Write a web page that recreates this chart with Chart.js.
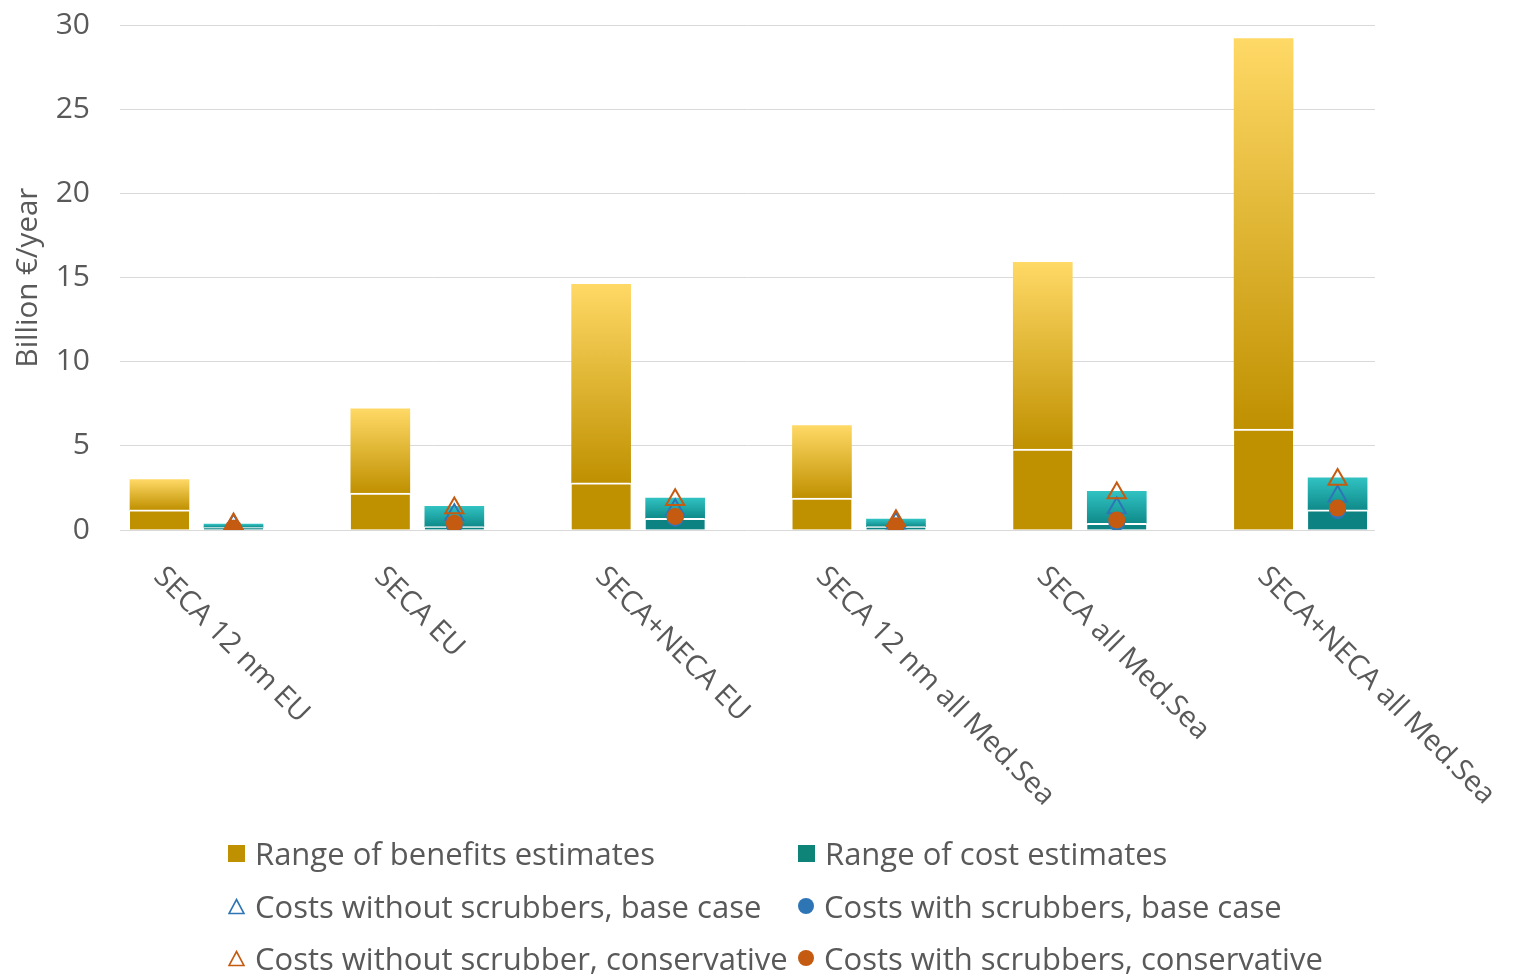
<!DOCTYPE html>
<html>
<head>
<meta charset="utf-8">
<title>Benefits and costs of emission control areas</title>
<script src="https://cdn.jsdelivr.net/npm/chart.js@4.4.1/dist/chart.umd.min.js"></script>
<style>
  html, body { margin: 0; padding: 0; background: #ffffff; }
  #wrap { position: relative; width: 1514px; height: 974px; overflow: hidden; }
  #chart { position: absolute; left: 0; top: 0; }
  .item {
    position: absolute; height: 40px; display: flex; align-items: center;
    font-family: 'Open Sans', sans-serif; font-size: 31px; color: #595959; white-space: nowrap;
  }
  .icon { width: 17px; height: 17px; margin-right: 10px; flex: none; display: block; }
  .dot { border-radius: 50%; width: 16px; height: 16px; }
</style>
</head>
<body>
<div id="wrap">
  <canvas id="chart" width="1514" height="974"></canvas>
  <div id="legend"></div>
</div>
<script>
// Scenarios along the horizontal axis
const categories = [
  'SECA 12 nm EU', 'SECA EU', 'SECA+NECA EU',
  'SECA 12 nm all Med.Sea', 'SECA all Med.Sea', 'SECA+NECA all Med.Sea'
];

// Benefit estimates, billion EUR per year (low and high end of the range)
const benefitsLow  = [1.2, 2.2, 2.8, 1.9, 4.8, 6.0];
const benefitsHigh = [3.0, 7.2, 14.6, 6.2, 15.9, 29.2];

// Cost estimates, billion EUR per year (low and high end of the range)
const costsLow  = [0.15, 0.2, 0.7, 0.2, 0.4, 1.2];
const costsHigh = [0.35, 1.4, 1.9, 0.65, 2.3, 3.1];

// Individual cost cases
const costsNoScrubberBase = [0.3, 0.9, 1.2, 0.4, 1.3, 2.0];
const costsScrubberBase   = [0.1, 0.3, 0.7, 0.2, 0.45, 1.15];
const costsNoScrubberCons = [0.35, 1.3, 1.8, 0.55, 2.2, 3.0];
const costsScrubberCons   = [0.1, 0.4, 0.8, 0.25, 0.6, 1.3];

// Value axis
const yTicks = [0, 5, 10, 15, 20, 25, 30];
const yTitle = 'Billion €/year';

// Legend entries
const seriesNames = [
  'Range of benefits estimates', 'Range of cost estimates',
  'Costs without scrubbers, base case', 'Costs with scrubbers, base case',
  'Costs without scrubber, conservative', 'Costs with scrubbers, conservative'
];

// ---- styling ----
const FONT = "'Open Sans', sans-serif";
const TEXT = '#595959';
const GOLD_DARK = '#BF9000', GOLD_LIGHT = '#FFD966';
const TEAL_SOLID = '#0C8282', TEAL_DARK = '#0F8A8A', TEAL_LIGHT = '#31C2C2';
const BLUE = '#2E75B6', ORANGE = '#C55A11';
const PAIR_OFFSET = 0.1676;   // half distance between the two columns of a scenario
const BAR_WIDTH = 59;

Chart.defaults.font.family = FONT;
Chart.defaults.color = TEXT;

const idx = categories.map((_, i) => i);

function rangeGradient(ctx, low, high, bottomColor, topColor) {
  const chart = ctx.chart;
  if (ctx.type !== 'data' || !chart.chartArea) return topColor;
  const y = chart.scales.y;
  const i = ctx.dataIndex;
  const g = chart.ctx.createLinearGradient(0, y.getPixelForValue(low[i]), 0, y.getPixelForValue(high[i]));
  g.addColorStop(0, bottomColor);
  g.addColorStop(1, topColor);
  return g;
}

function baseBar(values, xShift, color, order) {
  return {
    type: 'bar', order,
    data: idx.map(i => ({ x: i + xShift, y: [0, values[i]] })),
    backgroundColor: color,
    borderColor: '#ffffff',
    borderWidth: { top: 2, right: 0, bottom: 0, left: 0 },
    borderSkipped: false,
    grouped: false,
    barThickness: BAR_WIDTH
  };
}

function rangeBar(low, high, xShift, bottomColor, topColor, order) {
  return {
    type: 'bar', order,
    data: idx.map(i => ({ x: i + xShift, y: [low[i], high[i]] })),
    backgroundColor: ctx => rangeGradient(ctx, low, high, bottomColor, topColor),
    borderWidth: 0,
    grouped: false,
    barThickness: BAR_WIDTH
  };
}

function markers(values, style, color, order) {
  const hollow = style === 'triangle';
  return {
    type: 'scatter', order,
    data: idx.map(i => ({ x: i + PAIR_OFFSET, y: values[i] })),
    pointStyle: style,
    pointRadius: hollow ? 10.5 : 8.5,
    pointBorderWidth: hollow ? 2 : 0,
    pointBorderColor: color,
    pointBackgroundColor: hollow ? 'rgba(0,0,0,0)' : color,
    showLine: false
  };
}

// Rotated scenario names under the plot
const categoryLabels = {
  id: 'categoryLabels',
  afterDraw(chart) {
    const ctx = chart.ctx;
    const xs = chart.scales.x;
    ctx.save();
    ctx.fillStyle = TEXT;
    ctx.font = '29px ' + FONT;
    ctx.textAlign = 'left';
    ctx.textBaseline = 'alphabetic';
    categories.forEach((label, i) => {
      ctx.save();
      ctx.translate(xs.getPixelForValue(i) - 44, chart.chartArea.bottom + 48);
      ctx.rotate(Math.PI / 4);
      ctx.fillText(label, 0, 0);
      ctx.restore();
    });
    ctx.restore();
  }
};

new Chart(document.getElementById('chart'), {
  type: 'bar',
  data: {
    datasets: [
      markers(costsScrubberCons, 'circle', ORANGE, 1),
      markers(costsNoScrubberCons, 'triangle', ORANGE, 2),
      markers(costsScrubberBase, 'circle', BLUE, 3),
      markers(costsNoScrubberBase, 'triangle', BLUE, 4),
      baseBar(costsLow, PAIR_OFFSET, TEAL_SOLID, 5),
      rangeBar(costsLow, costsHigh, PAIR_OFFSET, TEAL_DARK, TEAL_LIGHT, 6),
      baseBar(benefitsLow, -PAIR_OFFSET, GOLD_DARK, 7),
      rangeBar(benefitsLow, benefitsHigh, -PAIR_OFFSET, GOLD_DARK, GOLD_LIGHT, 8)
    ]
  },
  options: {
    responsive: false,
    animation: false,
    events: [],
    layout: { padding: { left: 0, right: 139, top: 25, bottom: 444 } },
    plugins: { legend: { display: false }, tooltip: { enabled: false } },
    scales: {
      x: {
        type: 'linear',
        display: false,
        offset: false,
        min: -0.3465,
        max: 5.337
      },
      y: {
        min: 0,
        max: 30,
        afterBuildTicks: s => { s.ticks = yTicks.map(v => ({ value: v })); },
        afterFit: s => { s.width = 120; s.paddingTop = 0; s.paddingBottom = 0; },
        ticks: { font: { size: 30 }, color: TEXT, padding: 30 },
        grid: { color: '#D9D9D9', lineWidth: 1, drawTicks: false },
        border: { display: false },
        title: {
          display: true, text: yTitle, color: TEXT,
          font: { size: 29.5 }, padding: { top: 11, bottom: 0 }
        }
      }
    }
  },
  plugins: [categoryLabels]
});

// Legend laid out in two columns below the chart
const legendIcons = [
  `<span class="icon" style="background:${GOLD_DARK}"></span>`,
  `<span class="icon" style="background:#0E8478"></span>`,
  `<svg class="icon" viewBox="0 0 17 17"><polygon points="8.5,1.5 16,15.5 1,15.5" fill="none" stroke="${BLUE}" stroke-width="1.6"/></svg>`,
  `<span class="icon dot" style="background:${BLUE}"></span>`,
  `<svg class="icon" viewBox="0 0 17 17"><polygon points="8.5,1.5 16,15.5 1,15.5" fill="none" stroke="${ORANGE}" stroke-width="1.6"/></svg>`,
  `<span class="icon dot" style="background:${ORANGE}"></span>`
];
const legendCols = [228, 798];
const legendRows = [853, 906, 958];
const legend = document.getElementById('legend');
seriesNames.forEach((name, i) => {
  const el = document.createElement('div');
  el.className = 'item';
  el.style.left = legendCols[i % 2] + 'px';
  el.style.top = (legendRows[Math.floor(i / 2)] - 20) + 'px';
  el.innerHTML = legendIcons[i] + '<span></span>';
  el.lastChild.textContent = name;
  legend.appendChild(el);
});
</script>
</body>
</html>
